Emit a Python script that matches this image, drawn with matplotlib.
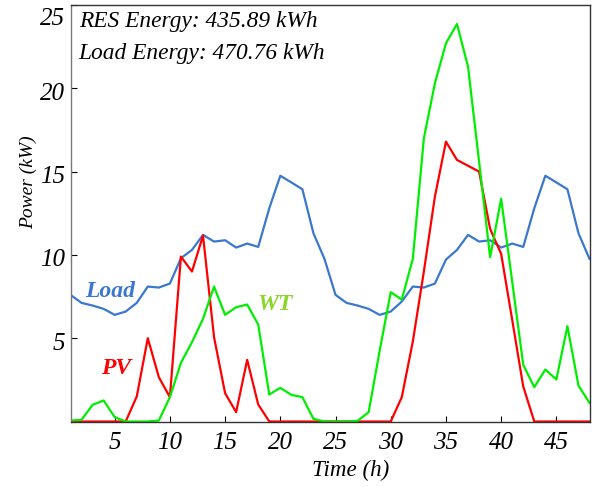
import matplotlib
matplotlib.use("Agg")
import matplotlib.pyplot as plt
import matplotlib.transforms as mtransforms

hours = list(range(1, 49))
load = [7.6, 7.12, 6.96, 6.76, 6.4, 6.6, 7.12, 8.1, 8.04, 8.28, 9.8, 10.3, 11.2, 10.8, 10.88, 10.44,
        10.68, 10.48, 12.8, 14.75, 14.35, 13.94, 11.3, 9.76,
        7.6, 7.12, 6.96, 6.76, 6.4, 6.6, 7.2, 8.1, 8.04, 8.28, 9.72, 10.3, 11.2, 10.8, 10.88, 10.44,
        10.68, 10.48, 12.8, 14.75, 14.35, 13.94, 11.3, 9.76]
pv = [0, 0, 0, 0, 0, 0, 1.5, 5.0, 2.66, 1.46, 9.9, 9.0, 11.16, 5.06, 1.7, 0.56, 3.7, 1.02, 0, 0, 0, 0, 0, 0,
      0, 0, 0, 0, 0, 0, 1.46, 4.8, 9.0, 13.5, 16.8, 15.7, 15.35, 15.0, 11.56, 10.06, 6.1, 2.1, 0, 0, 0, 0, 0, 0]
wt = [0.06, 0.1, 1.0, 1.26, 0.26, 0, 0, 0, 0.06, 1.46, 3.52, 4.76, 6.16, 8.1, 6.4, 6.86, 7.02, 5.82,
      1.62, 2.02, 1.6, 1.46, 0.16, 0,
      0, 0, 0.04, 0.56, 4.26, 7.76, 7.32, 9.76, 17.0, 20.3, 22.7, 23.86, 21.3, 15.6, 9.86, 13.37,
      8.4, 3.4, 2.06, 3.12, 2.52, 5.72, 2.16, 1.12]
xticks = [5, 10, 15, 20, 25, 30, 35, 40, 45]
yticks = [5, 10, 15, 20, 25]

plt.rcParams['font.family'] = ['Liberation Serif', 'DejaVu Serif']

fig = plt.figure(figsize=(6.04, 4.87), dpi=100)
ax = fig.add_axes([70.5 / 604, (487 - 421.5) / 487, 519 / 604, 416.5 / 487])

c_load = '#3a78d0'
c_pv = '#ff0000'
c_wt = '#00ee00'

ax.plot(hours, load, color=c_load, lw=1.6)
ax.plot(hours, pv, color=c_pv, lw=1.6)
ax.plot(hours, wt, color=c_wt, lw=1.6)

ax.set_xlim(1, 48)
ax.set_ylim(0, 25)
ax.set_xticks(xticks)
ax.set_yticks(yticks)
ax.tick_params(direction='in', length=4, labelsize=18, width=0.8)
ax.tick_params(axis='x', pad=7.5)
ax.tick_params(axis='y', pad=4)
for lab in ax.get_xticklabels() + ax.get_yticklabels():
    lab.set_fontstyle('italic')
off = mtransforms.ScaledTranslation(0, -3 / 100, fig.dpi_scale_trans)
for t in ax.yaxis.get_major_ticks():
    t.label1.set_transform(t.label1.get_transform() + off)
ax.yaxis.get_major_ticks()[-1].label1.set_va('top')

for s in ax.spines.values():
    s.set_linewidth(1.0)
    s.set_color('#333333')
ax.spines['left'].set_color('#777777')

ax.set_xlabel('Time (h)', fontsize=16.6, style='italic')
ax.xaxis.set_label_coords(0.54, -0.092)
ax.set_ylabel('Power (kW)', fontsize=14, style='italic')
ax.yaxis.set_label_coords(-0.064, 0.574)

ax.text(0.0159, 0.948, 'RES Energy: 435.89 kWh', transform=ax.transAxes, fontsize=16.8,
        style='italic', va='baseline', ha='left')
ax.text(0.0159, 0.8696, 'Load Energy: 470.76 kWh', transform=ax.transAxes, fontsize=16.8,
        style='italic', va='baseline', ha='left')

ax.text(2.35, 7.49, 'Load', color=c_load, fontsize=17, style='italic', weight='bold', va='baseline', ha='left')
ax.text(3.75, 2.86, 'PV', color=c_pv, fontsize=17, style='italic', weight='bold', va='baseline', ha='left')
ax.text(17.95, 6.67, 'WT', color='#8ad62a', fontsize=17, style='italic', weight='bold', va='baseline', ha='left')

fig.savefig('out.png', dpi=100)
